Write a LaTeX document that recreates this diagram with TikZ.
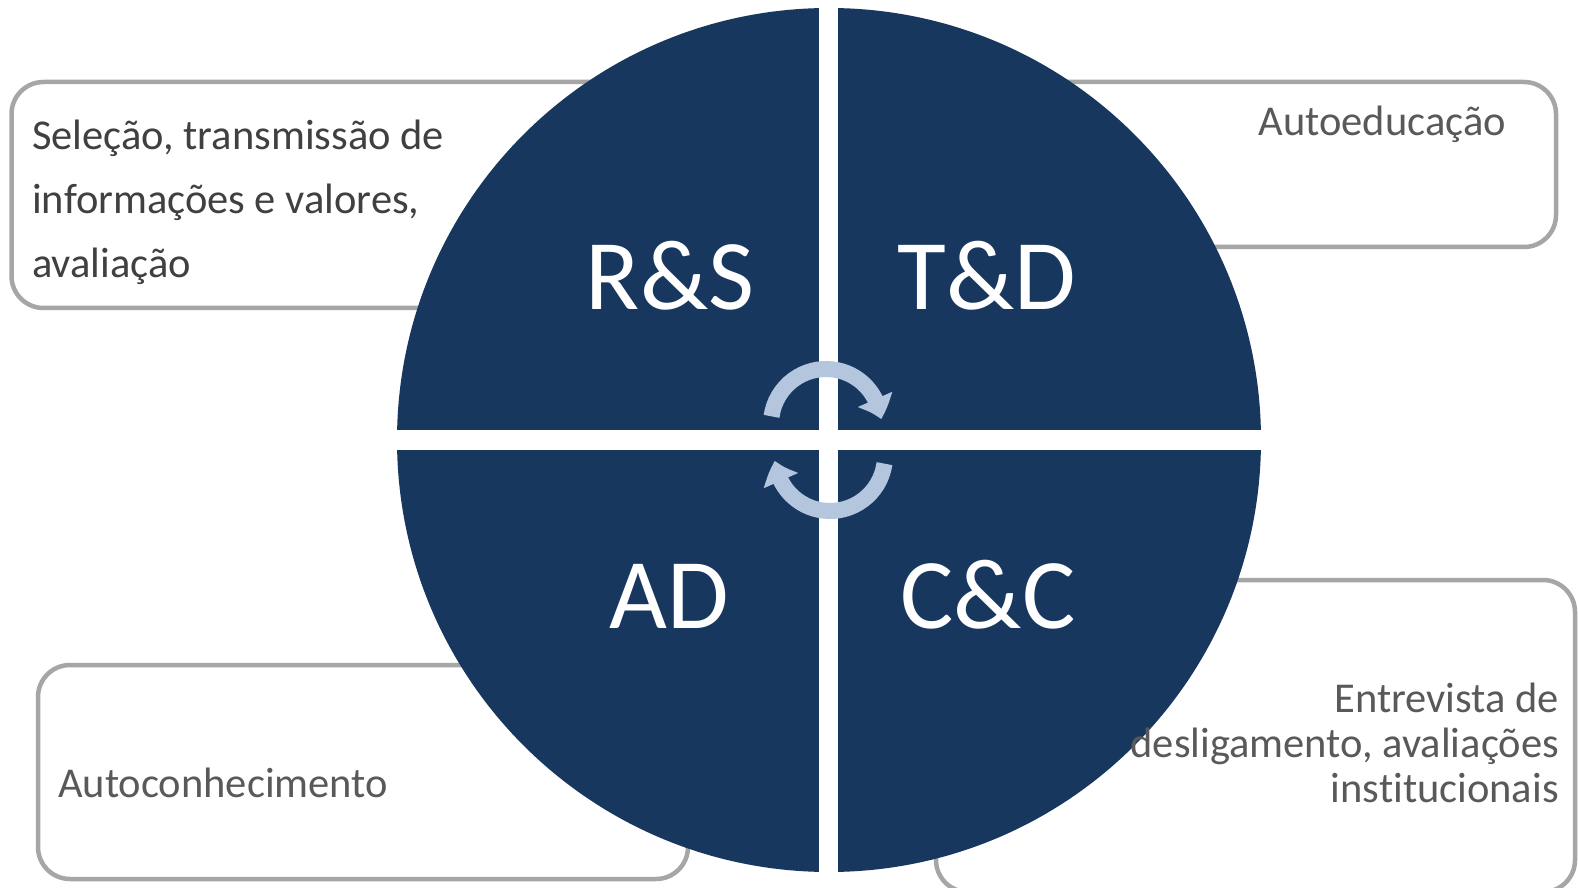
\documentclass[tikz,border=0pt]{standalone}
\usepackage{fontspec}
\setmainfont[Ligatures=NoCommon]{Carlito}
\usetikzlibrary{arrows.meta,bending,calc}
\definecolor{navy}{HTML}{17375E}
\definecolor{arrowblue}{HTML}{B4C5DE}
\definecolor{boxgray}{HTML}{A6A6A6}
\definecolor{txtgray}{HTML}{595959}
\definecolor{txtdark}{HTML}{404040}
\begin{document}
\begin{tikzpicture}[x=1pt,y=1pt,
  infobox/.style={draw=boxgray,line width=4.5pt,fill=white,rounded corners=32pt},
  quadlabel/.style={text=white,inner sep=0pt,anchor=base,font=\fontsize{100}{100}\selectfont},
  infotext/.style={text=txtgray,inner sep=0pt,font=\fontsize{42.5}{45}\selectfont},
  cyclearrow/.style={draw=arrowblue,line width=16pt,-{Triangle[width=36pt,length=21pt,bend]}}]
\useasboundingbox (0,0) rectangle (1578,887);
\fill[white] (0,0) rectangle (1578,887);
% boxes behind the circle
\draw[infobox] (11.5,579) rectangle (700,805);
\draw[infobox] (950,640) rectangle (1556,805);
\draw[infobox] (936,-5) rectangle (1575,307);
\draw[infobox] (38,8) rectangle (688,222);
% circle
\coordinate (c) at (829,447);
\fill[navy] (c) circle[radius=432];
\begin{scope}
\clip (c) circle[radius=433];
\fill[white] (819,0) rectangle (838,887);
\fill[white] (0,437) rectangle (1578,457);
\end{scope}
% labels
\node[quadlabel] (rs) at (670,577) {R\&S};
\node[quadlabel] (td) at (987,577) {T\&D};
\node[quadlabel] (ad) at (669,259) {AD};
\node[quadlabel] (cc) at (988,259) {C\&C};
% cycle arrows
\coordinate (ca) at (826,463);
\coordinate (cb) at (830,431);
\draw[cyclearrow] ($(ca)+(172:55)$) arc[start angle=172,end angle=5,radius=55];
\draw[cyclearrow] ($(cb)+(-8:55)$) arc[start angle=-8,end angle=-175,radius=55];
% texts
\node[infotext,text=txtdark,anchor=base west,align=left,font=\fontsize{42.5}{64}\selectfont] (t1) at (32,609)
  {Seleção, transmissão de\\informações e valores,\\avaliação};
\node[infotext,anchor=base east] (t2) at (1506,751) {Autoeducação};
\node[infotext,anchor=base west] (t3) at (58,90) {Autoconhecimento};
\node[infotext,anchor=base east,align=right] (t4) at (1559,85)
  {Entrevista de\\desligamento, avaliações\\institucionais};
\end{tikzpicture}
\end{document}
